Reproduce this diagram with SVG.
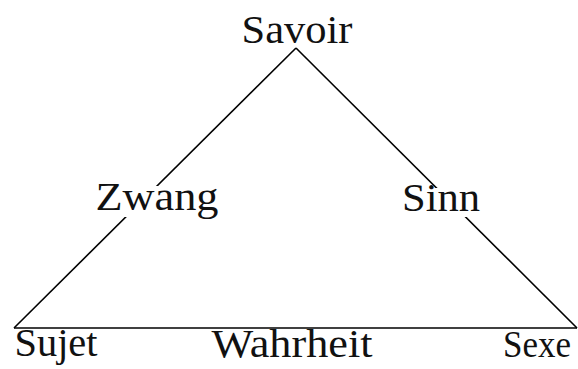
<svg xmlns="http://www.w3.org/2000/svg" width="578" height="369" viewBox="0 0 578 369">
<style>
text{font-family:"Liberation Serif","Times New Roman",serif;font-size:40px;fill:#111;text-anchor:middle}
.bg{fill:#fff}
.e{stroke:#000;stroke-width:1.6;fill:none}
</style>
<rect width="578" height="369" fill="#fff"/>
<g id="connectors">
<line class="e" x1="296" y1="48" x2="14" y2="328"/>
<line class="e" x1="296" y1="48" x2="577" y2="328"/>
<line class="e" x1="14" y1="328" x2="577" y2="328"/>
</g>
<g id="savoir"><text x="297" y="43" textLength="111" lengthAdjust="spacingAndGlyphs">Savoir</text></g>
<g id="zwang"><rect class="bg" x="95" y="186" width="123" height="31"/><text x="157" y="210" textLength="123" lengthAdjust="spacingAndGlyphs">Zwang</text></g>
<g id="sinn"><rect class="bg" x="401" y="188" width="80" height="29"/><text x="441" y="211" textLength="78" lengthAdjust="spacingAndGlyphs">Sinn</text></g>
<g id="sujet"><text x="56" y="356" textLength="83" lengthAdjust="spacingAndGlyphs">Sujet</text></g>
<g id="wahrheit"><text x="292" y="357" textLength="161" lengthAdjust="spacingAndGlyphs">Wahrheit</text></g>
<g id="sexe"><text x="537" y="357" style="font-size:37px" textLength="68" lengthAdjust="spacingAndGlyphs">Sexe</text></g>
</svg>
